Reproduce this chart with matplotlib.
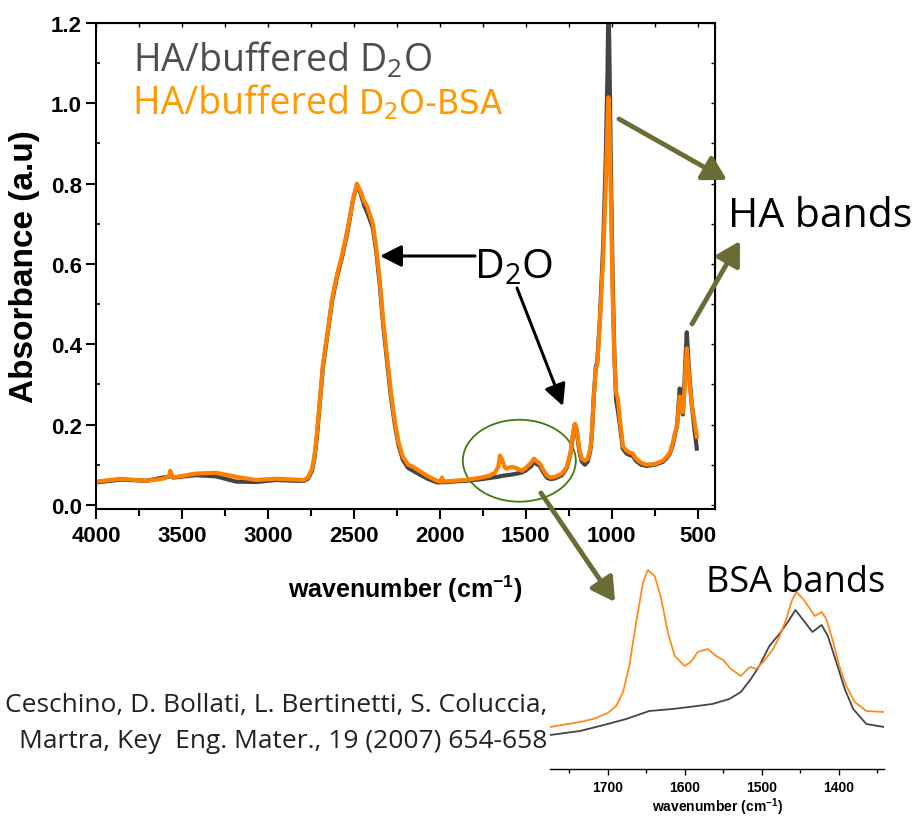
import matplotlib
matplotlib.use("Agg")
import matplotlib.pyplot as plt
from matplotlib.ticker import MultipleLocator
from matplotlib.patches import Ellipse, FancyArrowPatch

plt.rcParams['font.family'] = ['Liberation Sans', 'DejaVu Sans']
plt.rcParams['mathtext.default'] = 'regular'

# ---------------- data ----------------
wavenumber = [4000, 3855, 3709, 3610, 3575, 3568, 3552, 3419, 3302, 3186, 3070, 2953, 2837, 2790,
              2767, 2744, 2730, 2715, 2700, 2680, 2650, 2628, 2600, 2570, 2535, 2505, 2483, 2460,
              2440, 2424, 2390, 2370, 2349, 2330, 2308, 2285, 2262, 2240, 2215, 2185, 2157, 2076,
              2017, 1995, 1988, 1980, 1924, 1850, 1760, 1709, 1680, 1660, 1651, 1640, 1625, 1613,
              1590, 1564, 1540, 1523, 1500, 1470, 1453, 1435, 1419, 1400, 1378, 1355, 1331, 1290,
              1262, 1240, 1225, 1215, 1205, 1190, 1175, 1157, 1140, 1125, 1116, 1105, 1093, 1085,
              1070, 1050, 1035, 1025, 1020, 1015, 1005, 995, 985, 975, 965, 955, 936, 915, 895,
              878, 860, 830, 797, 750, 703, 680, 663, 645, 634, 620, 612, 605, 596, 587, 578, 570,
              564, 555, 545, 535, 520, 506]
abs_bsa = [0.058, 0.065, 0.060, 0.065, 0.072, 0.085, 0.068, 0.078, 0.080, 0.070, 0.062, 0.065, 0.063, 0.062,
           0.068, 0.090, 0.120, 0.180, 0.250, 0.350, 0.440, 0.510, 0.570, 0.620, 0.690, 0.760, 0.800, 0.780,
           0.755, 0.745, 0.700, 0.640, 0.555, 0.460, 0.370, 0.280, 0.207, 0.155, 0.120, 0.100, 0.095, 0.073,
           0.060, 0.058, 0.068, 0.058, 0.060, 0.062, 0.068, 0.073, 0.080, 0.095, 0.123, 0.115, 0.095, 0.090,
           0.094, 0.093, 0.088, 0.085, 0.092, 0.105, 0.115, 0.108, 0.103, 0.088, 0.073, 0.068, 0.070, 0.078,
           0.095, 0.130, 0.180, 0.202, 0.190, 0.140, 0.115, 0.110, 0.115, 0.140, 0.180, 0.270, 0.340, 0.350,
           0.450, 0.620, 0.800, 0.950, 1.015, 0.980, 0.750, 0.520, 0.360, 0.280, 0.265, 0.220, 0.147, 0.135, 0.130,
           0.128, 0.115, 0.105, 0.100, 0.102, 0.110, 0.120, 0.130, 0.155, 0.177, 0.200, 0.240, 0.270, 0.240, 0.230, 0.280, 0.350,
           0.390, 0.340, 0.290, 0.250, 0.210, 0.170]
abs_d2o = [0.056, 0.063, 0.060, 0.068, 0.070, 0.080, 0.068, 0.074, 0.071, 0.058, 0.057, 0.062, 0.060, 0.060,
           0.065, 0.085, 0.115, 0.170, 0.245, 0.345, 0.435, 0.505, 0.565, 0.615, 0.685, 0.760, 0.795, 0.775,
           0.745, 0.730, 0.690, 0.630, 0.545, 0.450, 0.360, 0.270, 0.200, 0.148, 0.112, 0.092, 0.085, 0.066,
           0.056, 0.056, 0.066, 0.056, 0.058, 0.060, 0.064, 0.067, 0.069, 0.070, 0.071, 0.072, 0.073, 0.074,
           0.075, 0.077, 0.079, 0.081, 0.086, 0.096, 0.108, 0.101, 0.097, 0.082, 0.068, 0.064, 0.066, 0.074,
           0.092, 0.128, 0.178, 0.200, 0.188, 0.135, 0.108, 0.100, 0.108, 0.135, 0.175, 0.270, 0.345, 0.355,
           0.460, 0.650, 0.870, 1.080, 1.260, 1.150, 0.820, 0.560, 0.370, 0.260, 0.235, 0.205, 0.140, 0.128, 0.124,
           0.122, 0.110, 0.100, 0.097, 0.100, 0.107, 0.117, 0.127, 0.150, 0.172, 0.200, 0.250, 0.290, 0.245, 0.225, 0.300, 0.380,
           0.430, 0.360, 0.300, 0.250, 0.190, 0.140]

inset_wn_bsa = [1775, 1736, 1719, 1700, 1689, 1680, 1672, 1663, 1654, 1648, 1639, 1631, 1622, 1613, 1600,
                1592, 1583, 1570, 1559, 1550, 1540, 1527, 1518, 1514, 1507, 1498, 1485, 1477, 1468, 1461,
                1455, 1446, 1437, 1431, 1422, 1416, 1407, 1399, 1390, 1379, 1364, 1341]
inset_abs_bsa = [0.042, 0.047, 0.050, 0.056, 0.063, 0.077, 0.103, 0.147, 0.187, 0.199, 0.193, 0.172, 0.137, 0.113, 0.103,
                 0.107, 0.117, 0.120, 0.113, 0.109, 0.100, 0.093, 0.100, 0.102, 0.100, 0.107, 0.120, 0.132, 0.150, 0.168,
                 0.177, 0.170, 0.160, 0.153, 0.157, 0.150, 0.127, 0.103, 0.083, 0.067, 0.058, 0.057]
inset_wn_d2o = [1775, 1736, 1700, 1676, 1646, 1616, 1594, 1564, 1542, 1527, 1514, 1503, 1490, 1477, 1466,
                1456, 1447, 1434, 1422, 1414, 1403, 1392, 1381, 1364, 1341]
inset_abs_d2o = [0.034, 0.038, 0.045, 0.050, 0.058, 0.060, 0.062, 0.065, 0.070, 0.077, 0.090, 0.103, 0.123, 0.135, 0.147,
                 0.159, 0.150, 0.137, 0.144, 0.133, 0.107, 0.080, 0.060, 0.045, 0.042]

main_xticks = [4000, 3500, 3000, 2500, 2000, 1500, 1000, 500]
main_yticks = [0.0, 0.2, 0.4, 0.6, 0.8, 1.0, 1.2]
inset_xticks = [1700, 1600, 1500, 1400]

GRAY = '#444444'
ORANGE = '#ff8000'
OLIVE = '#6b6b35'

W, H = 916, 820
fig = plt.figure(figsize=(W / 100, H / 100), dpi=100)


def fx(x):
    return x / W


def fy(y):
    return 1 - y / H


# ---------------- main axes ----------------
L, R, T, B = 96, 715, 24, 509.5
ax = fig.add_axes([fx(L), fy(B), (R - L) / W, (B - T) / H])
ax.plot(wavenumber, abs_d2o, color=GRAY, lw=3.0, solid_joinstyle='round')
ax.plot(wavenumber, abs_bsa, color=ORANGE, lw=3.0, solid_joinstyle='round')
ax.set_xlim(4000, 400)
ax.set_ylim(-0.009, 1.2)
ax.set_xticks(main_xticks)
ax.set_xticklabels([str(t) for t in main_xticks])
ax.set_yticks(main_yticks)
ax.set_yticklabels([f"{t:.1f}" for t in main_yticks])
ax.xaxis.set_minor_locator(MultipleLocator(250))
ax.yaxis.set_minor_locator(MultipleLocator(0.1))
for s in ax.spines.values():
    s.set_linewidth(1.5)
ax.tick_params(axis='x', which='major', direction='out', length=7, width=1.5, labelsize=16, pad=5)
ax.tick_params(axis='x', which='minor', direction='out', length=5, width=1.5)
ax.tick_params(axis='y', which='major', direction='out', length=7, width=1.5, labelsize=16, pad=3)
ax.tick_params(axis='y', which='minor', direction='in', length=3, width=1.2)
for lab in ax.get_xticklabels() + ax.get_yticklabels():
    lab.set_fontweight('bold')

top = ax.secondary_xaxis('top')
top.set_xticks(main_xticks)
top.xaxis.set_minor_locator(MultipleLocator(250))
top.tick_params(which='both', direction='in', length=3, width=1.0, labeltop=False)
right = ax.secondary_yaxis('right')
right.set_yticks(main_yticks)
right.yaxis.set_minor_locator(MultipleLocator(0.1))
right.tick_params(which='both', direction='in', length=3, width=1.0, labelright=False)

ax.set_xlabel("wavenumber (cm$^{-1}$)", fontsize=18, fontweight='bold', labelpad=19)
ax.set_ylabel("Absorbance (a.u)", fontsize=24, fontweight='bold', labelpad=8)

# ellipse around BSA bands
ax.add_patch(Ellipse((1538, 0.11), 657, 0.204, fill=False, edgecolor='#3f7a10', lw=1.3, clip_on=False))

# ---------------- inset ----------------
IL, IR, IT, IB = 550, 884, 560, 770
ax2 = fig.add_axes([fx(IL), fy(IB), (IR - IL) / W, (IB - IT) / H])
ax2.plot(inset_wn_d2o, inset_abs_d2o, color=GRAY, lw=1.3)
ax2.plot(inset_wn_bsa, inset_abs_bsa, color='#ff8c1a', lw=1.3)
ax2.set_xlim(1775, 1341)
ax2.set_ylim(0, 0.21)
for side in ['top', 'right', 'left']:
    ax2.spines[side].set_visible(False)
ax2.spines['bottom'].set_linewidth(1.0)
ax2.set_yticks([])
ax2.set_xticks(inset_xticks)
ax2.set_xticklabels([str(t) for t in inset_xticks])
ax2.xaxis.set_minor_locator(MultipleLocator(50))
ax2.tick_params(axis='x', which='major', direction='out', length=4, width=1, labelsize=10, pad=4)
ax2.tick_params(axis='x', which='minor', direction='out', length=3, width=1)
for lab in ax2.get_xticklabels():
    lab.set_fontweight('bold')
ax2.set_xlabel("wavenumber (cm$^{-1}$)", fontsize=10, fontweight='bold', labelpad=1)

# ---------------- texts ----------------
tf = ['Open Sans', 'DejaVu Sans']
fig.text(fx(133), fy(72), "HA/buffered D$_2$O", fontsize=27, color='#4d4d4d', family=tf, va='baseline')
fig.text(fx(133), fy(114), "HA/buffered ", fontsize=27, color='#ff9a00', family=tf, va='baseline')
fig.text(fx(358), fy(114), "D$_2$O-BSA", fontsize=23.5, color='#ff9a00', family=['DejaVu Sans'], va='baseline')
fig.text(fx(474), fy(278), "D$_2$O", fontsize=29.5, color='black', family=tf, va='baseline')
fig.text(fx(728), fy(227), "HA bands", fontsize=29.5, color='black', family=tf, va='baseline')
fig.text(fx(706), fy(592), "BSA bands", fontsize=26, color='black', family=tf, va='baseline')
fig.text(fx(547), fy(712), "Ceschino, D. Bollati, L. Bertinetti, S. Coluccia,", fontsize=19,
         color='#222222', family=tf, va='baseline', ha='right')
fig.text(fx(547), fy(748), "Martra, Key  Eng. Mater., 19 (2007) 654-658", fontsize=19,
         color='#222222', family=tf, va='baseline', ha='right')


# ---------------- arrows ----------------
def arrow(x0, y0, x1, y1, color, lw, hl, hw):
    a = FancyArrowPatch((x0, H - y0), (x1, H - y1), transform=None,
                        arrowstyle=f"-|>,head_length={hl},head_width={hw}",
                        mutation_scale=20, color=color, lw=lw, shrinkA=0, shrinkB=0)
    fig.add_artist(a)


arrow(475, 257, 380, 257, 'black', 2.2, 0.65, 0.33)
arrow(517, 289, 563, 407, 'black', 2.2, 0.65, 0.33)
arrow(619, 120, 727, 181, OLIVE, 3.5, 0.7, 0.4)
arrow(692, 325, 740, 242, OLIVE, 3.5, 0.7, 0.4)
arrow(541, 494, 615, 603, OLIVE, 3.5, 0.7, 0.4)

fig.savefig("out.png", dpi=100)
